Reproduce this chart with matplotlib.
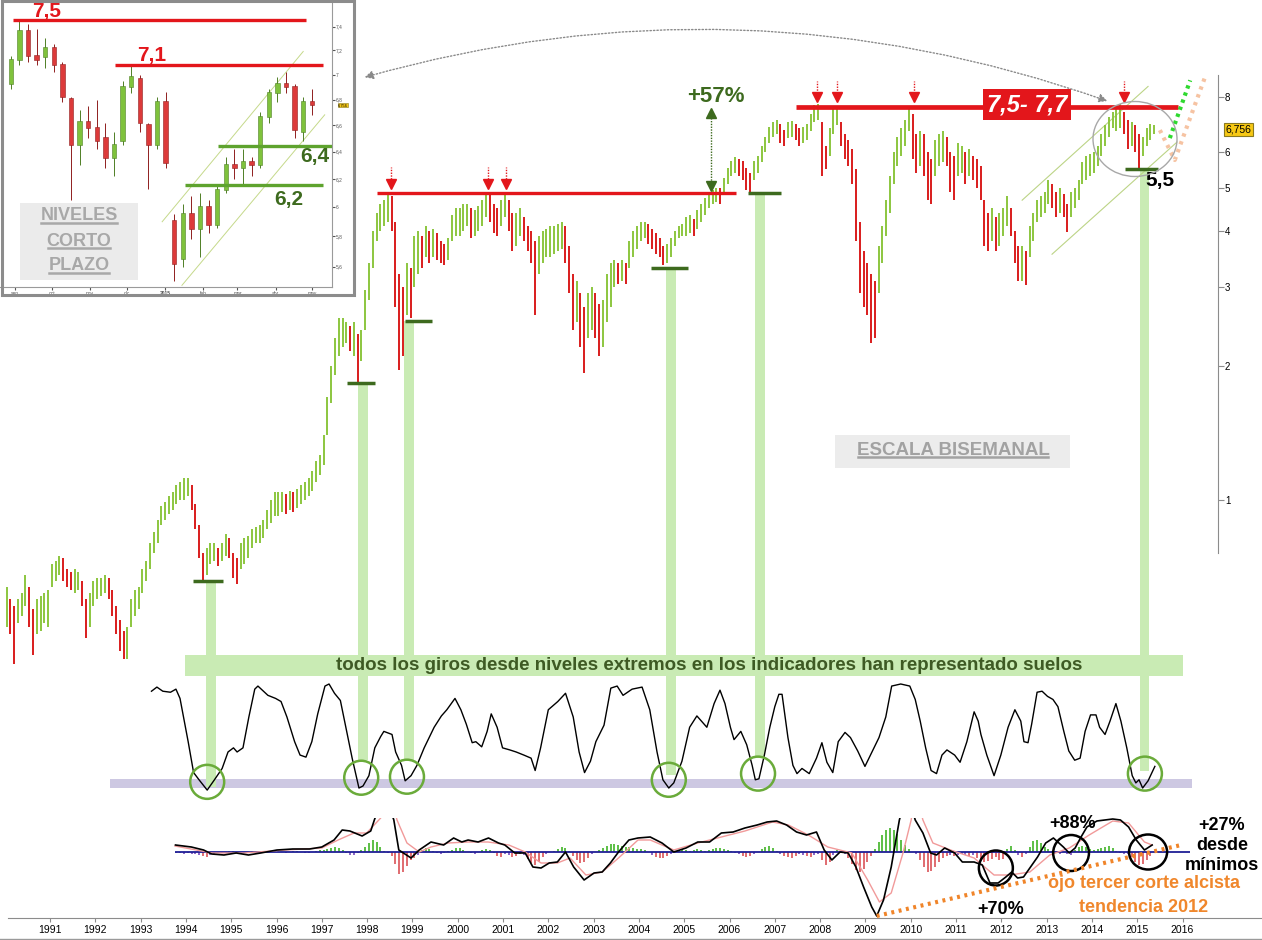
import numpy as np
import matplotlib
matplotlib.use("Agg")
import matplotlib.pyplot as plt
from matplotlib.patches import Rectangle, Ellipse, FancyArrowPatch
from matplotlib.lines import Line2D
from matplotlib.transforms import IdentityTransform
from matplotlib.ticker import NullLocator

plt.rcParams["font.family"] = ["Liberation Sans", "DejaVu Sans"]

# ---------------------------------------------------------------------------
# data
# monthly bars, Jan 1990 .. May 2015 (one row per year)
price_low = [
    0.52, 0.50, 0.43, 0.53, 0.55, 0.58, 0.52, 0.45, 0.50, 0.51, 0.53, 0.52,
    0.64, 0.66, 0.68, 0.66, 0.64, 0.63, 0.62, 0.63, 0.58, 0.49, 0.52, 0.58,
    0.60, 0.61, 0.62, 0.60, 0.55, 0.50, 0.46, 0.44, 0.44, 0.52, 0.55, 0.57,
    0.62, 0.66, 0.70, 0.76, 0.80, 0.88, 0.90, 0.93, 0.95, 0.98, 1.00, 1.00,
    1.02, 0.95, 0.86, 0.74, 0.66, 0.68, 0.72, 0.73, 0.71, 0.73, 0.75, 0.74,
    0.67, 0.65, 0.70, 0.72, 0.74, 0.78, 0.80, 0.80, 0.82, 0.86, 0.89, 0.92,
    0.92, 0.94, 0.93, 0.95, 0.94, 0.96, 0.98, 1.00, 1.02, 1.05, 1.10, 1.14,
    1.20, 1.40, 1.65, 1.90, 2.10, 2.20, 2.25, 2.15, 2.10, 1.84, 2.05, 2.40,
    2.80, 3.30, 3.80, 4.00, 4.10, 4.20, 4.00, 2.70, 1.95, 2.10, 2.60, 2.55,
    3.00, 3.20, 3.30, 3.50, 3.40, 3.50, 3.45, 3.40, 3.35, 3.45, 3.80, 3.90,
    3.90, 4.00, 4.10, 3.85, 3.90, 4.00, 4.10, 4.30, 4.20, 3.95, 3.90, 4.10,
    4.30, 4.00, 3.60, 3.70, 3.90, 3.80, 3.60, 3.40, 2.60, 3.20, 3.40, 3.50,
    3.50, 3.55, 3.60, 3.65, 3.40, 2.90, 2.40, 2.50, 2.20, 1.92, 2.30, 2.40,
    2.30, 2.10, 2.20, 2.50, 2.70, 3.00, 3.05, 3.10, 3.05, 3.30, 3.50, 3.65,
    3.80, 3.85, 3.75, 3.65, 3.55, 3.50, 3.35, 3.40, 3.50, 3.70, 3.85, 3.90,
    3.90, 3.95, 3.90, 4.05, 4.20, 4.35, 4.50, 4.60, 4.65, 4.60, 4.85, 5.10,
    5.30, 5.40, 5.30, 5.20, 4.95, 4.90, 5.20, 5.40, 5.70, 6.00, 6.30, 6.50,
    6.60, 6.30, 6.20, 6.45, 6.50, 6.40, 6.20, 6.30, 6.40, 6.70, 7.00, 7.10,
    5.30, 5.50, 5.90, 6.60, 6.90, 6.20, 5.80, 5.60, 5.10, 3.80, 2.90, 2.70,
    2.60, 2.25, 2.30, 2.90, 3.40, 3.90, 4.40, 5.10, 5.60, 5.90, 6.20, 6.70,
    5.80, 5.40, 5.60, 5.30, 4.70, 4.60, 5.30, 5.60, 5.70, 5.60, 4.90, 4.70,
    5.30, 5.40, 5.10, 5.30, 5.20, 5.00, 4.70, 3.70, 3.60, 3.80, 3.60, 3.70,
    3.90, 4.10, 3.90, 3.40, 3.10, 3.10, 3.03, 3.50, 3.80, 4.20, 4.30, 4.40,
    4.60, 4.50, 4.30, 4.40, 4.30, 3.98, 4.30, 4.50, 4.70, 5.10, 5.20, 5.30,
    5.40, 5.60, 5.90, 6.20, 6.50, 6.80, 6.70, 6.80, 6.60, 6.10, 6.20, 6.00,
    5.53, 5.90, 6.20, 6.40, 6.60,
]
price_high = [
    0.64, 0.60, 0.58, 0.60, 0.62, 0.68, 0.64, 0.57, 0.60, 0.61, 0.62, 0.63,
    0.72, 0.73, 0.75, 0.74, 0.70, 0.69, 0.70, 0.69, 0.66, 0.60, 0.62, 0.66,
    0.67, 0.67, 0.68, 0.67, 0.63, 0.58, 0.54, 0.51, 0.52, 0.60, 0.63, 0.64,
    0.70, 0.73, 0.80, 0.85, 0.90, 0.97, 0.99, 1.02, 1.04, 1.08, 1.10, 1.12,
    1.12, 1.08, 0.98, 0.88, 0.76, 0.78, 0.80, 0.80, 0.78, 0.80, 0.84, 0.82,
    0.76, 0.74, 0.80, 0.82, 0.83, 0.86, 0.87, 0.88, 0.90, 0.95, 1.00, 1.04,
    1.04, 1.04, 1.03, 1.05, 1.04, 1.06, 1.08, 1.10, 1.12, 1.16, 1.22, 1.26,
    1.40, 1.70, 2.00, 2.30, 2.55, 2.55, 2.50, 2.45, 2.50, 2.35, 2.40, 2.95,
    3.40, 4.00, 4.40, 4.60, 4.70, 4.86, 4.80, 4.20, 3.20, 3.00, 3.40, 3.30,
    3.90, 4.00, 3.90, 4.10, 4.00, 4.05, 3.95, 3.80, 3.75, 3.85, 4.35, 4.50,
    4.50, 4.60, 4.60, 4.50, 4.45, 4.55, 4.70, 4.90, 4.86, 4.60, 4.50, 4.70,
    4.90, 4.70, 4.40, 4.40, 4.50, 4.30, 4.10, 4.00, 3.80, 3.90, 4.00, 4.05,
    4.10, 4.10, 4.15, 4.20, 4.10, 3.70, 3.20, 3.10, 2.90, 2.70, 2.90, 3.00,
    2.90, 2.75, 2.80, 3.20, 3.40, 3.45, 3.40, 3.45, 3.40, 3.80, 4.00, 4.10,
    4.20, 4.20, 4.15, 4.05, 3.95, 3.85, 3.70, 3.75, 3.85, 4.00, 4.10, 4.15,
    4.30, 4.35, 4.25, 4.45, 4.60, 4.75, 4.90, 4.95, 5.00, 5.00, 5.25, 5.55,
    5.75, 5.85, 5.80, 5.75, 5.55, 5.40, 5.75, 5.90, 6.20, 6.50, 6.85, 7.00,
    7.10, 6.95, 6.75, 7.00, 7.05, 6.95, 6.80, 6.85, 6.95, 7.30, 7.65, 7.70,
    7.00, 6.20, 6.80, 7.50, 7.60, 7.00, 6.60, 6.40, 6.10, 5.50, 4.20, 3.60,
    3.40, 3.20, 3.10, 3.70, 4.10, 4.70, 5.30, 6.00, 6.50, 6.80, 7.10, 7.50,
    7.30, 6.60, 6.70, 6.60, 6.00, 5.80, 6.40, 6.60, 6.70, 6.50, 6.00, 5.90,
    6.30, 6.20, 6.00, 6.10, 5.90, 5.80, 5.60, 4.70, 4.40, 4.50, 4.30, 4.40,
    4.50, 4.80, 4.50, 4.00, 3.70, 3.70, 3.60, 4.10, 4.40, 4.70, 4.80, 4.90,
    5.20, 5.10, 4.90, 5.00, 4.85, 4.60, 4.90, 5.00, 5.20, 5.70, 5.90, 5.95,
    6.00, 6.20, 6.60, 6.90, 7.20, 7.40, 7.50, 7.70, 7.40, 7.10, 7.00, 6.90,
    6.60, 6.50, 6.80, 6.95, 6.90,
]
axis_ticks = [1, 2, 3, 4, 5, 6, 8]

# resistance levels (red) with the span they are drawn over and the tops marked
res_levels = [4.87, 7.60]
res_spans = [(1998.22, 2006.14), (2007.47, 2015.90)]
res_peaks = [[1998.53, 2000.67, 2001.07], [2007.93, 2008.37, 2010.07, 2014.71]]

# lows that started each turn: (year, price), marker span, end of column in the oscillator
support_t = [1994.55, 1997.91, 1998.93, 2004.71, 2006.67, 2015.16]
support_p = [0.66, 1.83, 2.52, 3.30, 4.86, 5.50]
support_span = [(1994.16, 1994.82), (1997.56, 1998.17), (1998.84, 1999.43),
                (2004.27, 2005.08), (2006.41, 2007.14), (2014.73, 2015.46)]
column_end = [0, 26, 26, 12, 28, 16]
osc_circles = [(1994.47, 5), (1997.87, 9), (1998.88, 10), (2004.66, 7), (2006.63, 13), (2015.17, 13)]

# oscillator (0 = extreme low band, 100 = top)
osc = [
    (1993.24, 93), (1993.36, 97), (1993.49, 93), (1993.66, 92), (1993.78, 95), (1993.87, 86),
    (1994.05, 44), (1994.17, 14), (1994.29, 7), (1994.47, -3), (1994.63, 7), (1994.80, 18),
    (1994.93, 34), (1995.05, 38), (1995.13, 34), (1995.26, 38), (1995.39, 68), (1995.52, 95),
    (1995.59, 98), (1995.81, 89), (1995.98, 86), (1996.10, 83), (1996.23, 68), (1996.40, 44),
    (1996.52, 31), (1996.65, 29), (1996.78, 44), (1996.91, 71), (1997.07, 98), (1997.16, 100),
    (1997.28, 91), (1997.41, 84), (1997.53, 58), (1997.67, 28), (1997.82, -1), (1997.91, 1),
    (1998.04, 11), (1998.17, 38), (1998.30, 49), (1998.37, 54), (1998.55, 51), (1998.63, 34),
    (1998.76, 21), (1998.84, 6), (1998.97, 11), (1999.10, 21), (1999.26, 38), (1999.48, 58),
    (1999.64, 69), (1999.76, 75), (1999.94, 86), (2000.07, 75), (2000.19, 61), (2000.32, 43),
    (2000.40, 44), (2000.53, 39), (2000.65, 54), (2000.74, 71), (2000.87, 58), (2000.99, 38),
    (2001.15, 36), (2001.29, 34), (2001.46, 31), (2001.62, 28), (2001.71, 16), (2001.83, 38),
    (2002.00, 75), (2002.21, 83), (2002.38, 91), (2002.55, 68), (2002.68, 34), (2002.80, 14),
    (2002.93, 25), (2003.05, 44), (2003.23, 60), (2003.38, 96), (2003.52, 98), (2003.65, 89),
    (2003.85, 95), (2004.07, 97), (2004.24, 75), (2004.40, 34), (2004.53, 7), (2004.66, -1),
    (2004.77, 4), (2004.95, 25), (2005.12, 58), (2005.28, 69), (2005.50, 58), (2005.66, 81),
    (2005.79, 94), (2005.90, 81), (2006.02, 58), (2006.10, 46), (2006.25, 54), (2006.38, 41),
    (2006.50, 21), (2006.57, 7), (2006.65, 8), (2006.77, 31), (2006.89, 58), (2007.00, 78),
    (2007.09, 90), (2007.16, 90), (2007.29, 48), (2007.40, 21), (2007.49, 13), (2007.60, 18),
    (2007.76, 13), (2007.92, 28), (2008.04, 43), (2008.15, 24), (2008.28, 14), (2008.40, 44),
    (2008.55, 53), (2008.67, 48), (2008.83, 35), (2008.99, 20), (2009.19, 38), (2009.30, 48),
    (2009.45, 68), (2009.58, 98), (2009.78, 100), (2009.98, 98), (2010.10, 85), (2010.21, 64),
    (2010.33, 38), (2010.45, 16), (2010.57, 13), (2010.69, 31), (2010.80, 36), (2010.97, 31),
    (2011.09, 24), (2011.24, 44), (2011.40, 73), (2011.49, 64), (2011.55, 51), (2011.68, 31),
    (2011.84, 11), (2011.99, 31), (2012.15, 58), (2012.30, 75), (2012.43, 64), (2012.50, 44),
    (2012.59, 43), (2012.67, 61), (2012.79, 92), (2012.90, 93), (2013.02, 88), (2013.14, 85),
    (2013.25, 78), (2013.38, 54), (2013.49, 35), (2013.62, 26), (2013.74, 28), (2013.85, 54),
    (2013.97, 70), (2014.09, 70), (2014.17, 58), (2014.29, 51), (2014.40, 64), (2014.53, 81),
    (2014.64, 64), (2014.77, 38), (2014.89, 11), (2014.97, 4), (2015.04, 7), (2015.12, -1),
    (2015.24, 6), (2015.39, 20),
]

# MACD line, signal line and monthly histogram (from Oct 1993)
macd = [
    (1993.77, 7), (1994.12, 5), (1994.39, 2), (1994.57, -2), (1994.84, -3), (1995.11, -1),
    (1995.38, -3), (1995.65, -1), (1996.01, 2), (1996.36, 3), (1996.73, 3), (1997.00, 5),
    (1997.27, 12), (1997.45, 22), (1997.62, 21), (1997.89, 16), (1998.08, 21), (1998.16, 32),
    (1998.38, 60), (1998.59, 32), (1998.70, 2), (1998.97, -6), (1999.15, 2), (1999.41, 10),
    (1999.69, 7), (1999.91, 14), (2000.09, 10), (2000.23, 12), (2000.45, 10), (2000.68, 14),
    (2000.90, 9), (2001.04, 7), (2001.26, -1), (2001.49, -1), (2001.66, -15), (2001.84, -16),
    (2002.02, -11), (2002.20, -10), (2002.38, 0), (2002.56, -15), (2002.79, -28), (2003.01, -21),
    (2003.19, -20), (2003.37, -11), (2003.55, 0), (2003.78, 12), (2003.98, 14), (2004.25, 15),
    (2004.51, 9), (2004.77, 0), (2005.04, 4), (2005.30, 10), (2005.56, 10), (2005.82, 19),
    (2006.08, 20), (2006.34, 24), (2006.61, 27), (2006.83, 30), (2007.04, 31), (2007.26, 27),
    (2007.48, 20), (2007.70, 17), (2007.92, 20), (2008.09, 2), (2008.26, -8), (2008.44, 0),
    (2008.62, -1), (2008.79, -15), (2008.96, -35), (2009.14, -55), (2009.25, -64), (2009.40, -48),
    (2009.57, -15), (2009.75, 32), (2009.92, 60), (2010.10, 32), (2010.27, 19), (2010.44, -1),
    (2010.57, -3), (2010.75, 4), (2010.97, -1), (2011.14, -10), (2011.40, -10), (2011.58, -13),
    (2011.75, -31), (2011.93, -31), (2012.10, -25), (2012.23, -20), (2012.36, -26), (2012.49, -25),
    (2012.63, -16), (2012.80, -5), (2012.98, 9), (2013.15, 14), (2013.37, 5), (2013.50, -1),
    (2013.63, 4), (2013.76, 15), (2013.89, 25), (2014.11, 31), (2014.46, 33), (2014.63, 32),
    (2014.81, 25), (2014.98, 12), (2015.16, 2), (2015.33, 7),
]
signal = [
    (1993.76, 6), (1994.58, -1), (1995.28, -1), (1996.19, 2), (1997.00, 4), (1997.36, 12),
    (1997.71, 19), (1997.99, 19), (1998.30, 34), (1998.50, 60), (1998.66, 32), (1998.88, 9),
    (1999.15, 0), (1999.41, 5), (1999.79, 9), (2000.23, 10), (2000.67, 10), (2001.13, 7),
    (2001.49, 0), (2001.84, -11), (2002.20, -11), (2002.48, -6), (2002.83, -23), (2003.19, -20),
    (2003.55, -6), (2003.98, 12), (2004.25, 12), (2004.77, 2), (2005.30, 9), (2005.82, 15),
    (2006.34, 21), (2006.95, 30), (2007.30, 27), (2007.74, 17), (2008.17, 5), (2008.70, -1),
    (2009.05, -28), (2009.31, -50), (2009.57, -41), (2009.83, -1), (2010.01, 32), (2010.10, 60),
    (2010.27, 32), (2010.49, 9), (2010.88, 2), (2011.40, -6), (2011.84, -23), (2012.19, -23),
    (2012.63, -20), (2013.07, -3), (2013.50, 4), (2013.94, 17), (2014.46, 31), (2014.81, 29),
    (2015.16, 10), (2015.33, 7),
]
macd_hist = [
    -1, -1, -2,
    -1, -2, -2, -3, -4, -5, -3, -2, -1, -1, 0, 1,
    1, 0, -1, -1, 0, 1, 1, 0, -1, 0, 1, 1,
    1, 0, -1, 0, 1, 1, 0, -1, -1, 0, 1, 2,
    2, 3, 4, 5, 4, 2, -1, -3, -3, -1, 2, 5,
    9, 12, 10, 5, 1, -1, -4, -12, -22, -20, -14, -8,
    -6, -3, 2, 4, 3, 1, -1, -2, -1, 1, 2, 4,
    4, 2, 0, -1, -2, 0, 2, 3, 2, -1, -4, -5,
    -2, -3, -5, -4, -2, -3, -7, -11, -13, -10, -5, -2,
    0, 1, 3, 5, 4, 1, -4, -8, -11, -10, -6, -2,
    0, 2, 4, 6, 8, 8, 7, 6, 5, 5, 4, 3,
    3, 2, 0, -3, -5, -6, -6, -4, -2, 1, 2, 3,
    2, 1, 2, 3, 2, 1, 2, 3, 4, 4, 3, 2,
    1, -1, -2, -4, -5, -4, -2, 0, 3, 5, 6, 4,
    1, -2, -4, -5, -6, -4, -2, -3, -4, -5, -3, -2,
    -8, -13, -10, -3, 2, 1, -2, -6, -12, -18, -20, -17,
    -10, -4, 3, 10, 17, 22, 24, 22, 18, 12, 7, 3,
    0, -2, -8, -15, -20, -19, -15, -10, -6, -4, -3, -4,
    -3, -2, -3, -4, -3, -6, -9, -10, -9, -7, -5, -8,
    -7, 3, 6, 2, -3, -5, -2, 5, 11, 12, 9, 5,
    3, 1, -1, -2, 0, -2, -3, 2, 5, 6, 5, 3,
    2, 3, 4, 5, 6, 4, 1, -1, -2, -2, -5, -10,
    -13, -12, -8, -4,
]
macd_circles = [(2011.88, -16, 0.75, 35), (2013.54, -1, 0.79, 36), (2015.24, 0, 0.84, 35)]

# inset: weekly candles from the week of 25 Aug 2014
in_open = [6.92, 7.12, 7.36, 7.15, 7.14, 7.22, 7.08, 6.80, 6.45, 6.62, 6.58, 6.50, 6.35, 6.48,
           6.90, 6.96, 6.60, 6.45, 6.78, 5.90, 5.65, 5.95, 5.85, 6.00, 5.88, 6.12, 6.30, 6.28,
           6.32, 6.30, 6.66, 6.85, 6.92, 6.90, 6.55, 6.78]
in_high = [7.15, 7.46, 7.42, 7.38, 7.30, 7.25, 7.10, 6.82, 6.72, 6.75, 6.80, 6.62, 6.55, 6.95,
           7.08, 7.00, 6.62, 6.82, 6.86, 5.95, 6.02, 6.08, 6.10, 6.05, 6.15, 6.36, 6.42, 6.42,
           6.36, 6.70, 6.88, 6.98, 7.02, 6.92, 6.82, 6.88]
in_low = [6.88, 7.08, 7.10, 7.08, 7.05, 7.02, 6.78, 6.05, 6.30, 6.50, 6.42, 6.28, 6.22, 6.45,
          6.85, 6.55, 6.13, 6.42, 6.28, 5.51, 5.60, 5.78, 5.66, 5.82, 5.86, 6.10, 6.20, 6.16,
          6.22, 6.28, 6.62, 6.78, 6.85, 6.50, 6.48, 6.68]
in_close = [7.12, 7.36, 7.15, 7.12, 7.22, 7.08, 6.82, 6.45, 6.62, 6.58, 6.48, 6.35, 6.45, 6.90,
            6.98, 6.62, 6.45, 6.78, 6.32, 5.62, 5.95, 5.85, 6.00, 5.88, 6.12, 6.30, 6.28, 6.32,
            6.30, 6.66, 6.85, 6.92, 6.90, 6.56, 6.78, 6.756]
in_ticks = [5.6, 5.8, 6.0, 6.2, 6.4, 6.6, 6.8, 7.0, 7.2, 7.4]
in_months = ["2014-09-01", "2014-10-01", "2014-11-01", "2014-12-01", "2015-01-01",
             "2015-02-01", "2015-03-01", "2015-04-01", "2015-05-01"]
in_month_labels = ["sep", "oct", "nov", "dic", "2015", "feb", "mar", "abr", "may"]
in_levels = [7.46, 7.08, 6.44, 6.16]
in_level_spans = [(0.76, 34.8), (12.6, 36.8), (24.6, 37.85), (20.8, 36.8)]

# ---------------------------------------------------------------------------
W, H = 1262, 940
fig = plt.figure(figsize=(W / 100, H / 100), dpi=100)

RED = "#e3161b"
BAR_GREEN = "#8cc63f"
BAR_RED = "#d91c1c"
COL_GREEN = "#c9ebb4"
DARK_GREEN = "#3d6a1e"
LINE_GREEN = "#5ea32e"


def year_at(px):
    # x layout of the screenshot: 1991 at 50 px, 45.3 px per year
    return 1991 + (px - 50) / 45.3


def price_at(py):
    # log price scale: 1.0 at y=500 px, 194 px per e-fold
    return np.exp((500 - py) / 194)


def rect(x0, y0, x1, y1):
    return [x0 / W, 1 - y1 / H, (x1 - x0) / W, (y1 - y0) / H]


def ftext(px, py, s, **kw):
    return fig.text(px / W, 1 - py / H, s, **kw)


def fbox(x0, y0, x1, y1, **kw):
    p = Rectangle((x0 / W, 1 - y1 / H), (x1 - x0) / W, (y1 - y0) / H,
                  transform=fig.transFigure, **kw)
    fig.add_artist(p)
    return p


XLIM = (year_at(0), year_at(W))

# ---------------- main price panel ----------------
ax = fig.add_axes(rect(0, 0, W, 680))
ax.set_facecolor("none")
ax.set_xlim(*XLIM)
ax.set_yscale("log")
ax.set_ylim(price_at(680), price_at(0))
for s in ["left", "top", "bottom"]:
    ax.spines[s].set_visible(False)
ax.spines["right"].set_position(("data", year_at(1218)))
ax.spines["right"].set_bounds(price_at(553), price_at(75))
ax.spines["right"].set_color("#8c8c8c")
ax.yaxis.set_ticks_position("right")
ax.set_yticks(axis_ticks)
ax.set_yticklabels([str(v) for v in axis_ticks])
ax.yaxis.set_minor_locator(NullLocator())
ax.tick_params(axis="y", length=4, color="#8c8c8c", labelsize=7, pad=1)
ax.set_xticks([])

lo = np.array(price_low)
hi = np.array(price_high)
t = 1990 + (np.arange(len(lo)) + 0.5) / 12
mid = (lo + hi) / 2
up = np.r_[True, mid[1:] >= mid[:-1]]
ax.vlines(t[up], lo[up], hi[up], color=BAR_GREEN, lw=1.4, zorder=3)
ax.vlines(t[~up], lo[~up], hi[~up], color=BAR_RED, lw=1.4, zorder=3)

# green columns from each low down to the oscillator
bottom = ax.get_ylim()[0]
ax.bar(support_t, np.array(support_p) - bottom, bottom=bottom, width=0.21,
       color=COL_GREEN, zorder=1)
for (a, b), p in zip(support_span, support_p):
    ax.hlines(p, a, b, color=DARK_GREEN, lw=2.5, zorder=4)

# resistance lines and marked tops
for lvl, (a, b), peaks, lw in zip(res_levels, res_spans, res_peaks, [2.4, 3.4]):
    ax.hlines(lvl, a, b, color=RED, lw=lw, zorder=4)
    for pk in peaks:
        ax.vlines(pk, lvl * 1.075, lvl * 1.14, colors=RED, linestyles=(0, (1, 1)), lw=1, zorder=4)
        ax.plot(pk, lvl * 1.048, marker="v", ms=7, color=RED, zorder=4)

ax.text(year_at(1027), price_at(104.5), "7,5- 7,7", ha="center", va="center",
        fontsize=17, fontweight="bold", style="italic", color="white", zorder=5,
        bbox=dict(boxstyle="square,pad=0.18", fc=RED, ec="none"))

# +57 % move between the two levels
t57 = year_at(711)
ax.vlines(t57, res_levels[0] * 1.05, res_levels[1] / 1.05, colors=DARK_GREEN,
          linestyles=(0, (1, 1)), lw=1, zorder=4)
ax.plot(t57, res_levels[1] / 1.035, marker="^", ms=7, color=DARK_GREEN, zorder=4)
ax.plot(t57, res_levels[0] * 1.035, marker="v", ms=7, color=DARK_GREEN, zorder=4)
ax.text(year_at(716), price_at(97), "+57%", ha="center", va="center", fontsize=16,
        fontweight="bold", color=DARK_GREEN)

# 2012-2015 channel, circle and projections
ax.plot([2012.46, 2015.24], [4.69, 8.43], color="#bcd486", lw=0.8, zorder=2)
ax.plot([2013.12, 2015.88], [3.55, 6.33], color="#bcd486", lw=0.8, zorder=2)
ax.plot([2015.72, 2016.17], [6.46, 8.70], color="#2fd92f", lw=3,
        ls=(0, (0.8, 1.0)), zorder=4, clip_on=False)
ax.plot([2015.50, 2015.83, 2016.50], [6.73, 5.77, 8.86], color="#f6c3a2", lw=3,
        ls=(0, (0.8, 1.2)), zorder=2, clip_on=False)
ax.text(year_at(1160), price_at(180), "5,5", ha="center", va="center", fontsize=15,
        fontweight="bold", color="black")

# last price tag on the axis
ax.text(year_at(1238), in_close[-1], "6,756", ha="center", va="center", fontsize=7.5,
        color="black", zorder=6,
        bbox=dict(boxstyle="square,pad=0.15", fc="#f6c814", ec="#8a7a20", lw=0.8))

# ---------------- oscillator ----------------
axo = fig.add_axes(rect(0, 680, W, 800))
axo.set_facecolor("none")
axo.set_xlim(*XLIM)
axo.set_ylim((787 - 800) / 1.03, (787 - 680) / 1.03)
axo.axis("off")
axo.fill_between([year_at(110), year_at(1192)], -1, 8, color="#cdc8e2", lw=0, zorder=1)
otop = axo.get_ylim()[1]
axo.bar(support_t, otop - np.array(column_end), bottom=column_end, width=0.21,
        color=COL_GREEN, zorder=2)
ot, ov = zip(*osc)
axo.plot(ot, ov, color="black", lw=1.0, zorder=3)
for cx, cy in osc_circles:
    axo.add_patch(Ellipse((cx, cy), 0.75, 33, fill=False, ec="#6aab3a", lw=1.8,
                          zorder=4, clip_on=False))

# ---------------- MACD ----------------
axm = fig.add_axes(rect(0, 818, W, 918))
axm.set_facecolor("none")
axm.set_xlim(*XLIM)
axm.set_ylim(-66, 34)
for s in ["left", "top", "right"]:
    axm.spines[s].set_visible(False)
axm.spines["bottom"].set_color("#8c8c8c")
axm.spines["bottom"].set_bounds(year_at(8), XLIM[1])
axm.set_yticks([])
years = list(range(1991, 2017))
axm.set_xticks(years)
axm.set_xticklabels([str(y) for y in years])
axm.tick_params(axis="x", length=3, color="#8c8c8c", labelsize=7.5, pad=2)

hv = np.array(macd_hist)
ht = 1993.75 + (np.arange(len(hv)) + 0.5) / 12
hcol = np.where(hv > 0, "#5cbf45", np.where(hv >= -3, "#8a63c6", "#e06b70"))
axm.vlines(ht, 0, hv, colors=hcol, lw=1.4, zorder=2)
axm.hlines(0, year_at(175), year_at(1190), color="#1f1f95", lw=1.3, zorder=3)
st, sv = zip(*signal)
axm.plot(st, sv, color="#f19a9a", lw=1.0, zorder=4)
mt, mv = zip(*macd)
axm.plot(mt, mv, color="black", lw=1.2, zorder=5)
for cx, cy, w, h in macd_circles:
    axm.add_patch(Ellipse((cx, cy), w, h, fill=False, ec="black", lw=1.8, zorder=6, clip_on=False))
imin = int(np.argmin(mv))
axm.plot([mt[imin], 2015.97], [mv[imin], 7], color="#f0852a", lw=3,
         ls=(0, (0.7, 1.1)), zorder=6, clip_on=False)

fig.add_artist(Line2D([0, 1], [1 - 938.5 / H] * 2, transform=fig.transFigure,
                      color="#9a9a9a", lw=1))

ftext(1001, 910, "+70%", ha="center", va="center", fontsize=13, fontweight="bold")
ftext(1073, 823, "+88%", ha="center", va="center", fontsize=13, fontweight="bold")
for py, s in [(826, "+27%"), (846, "desde"), (865, "mínimos")]:
    ftext(1222, py, s, ha="center", va="center", fontsize=13, fontweight="bold")
ftext(1144, 884, "ojo tercer corte alcista", ha="center", va="center", fontsize=13,
      fontweight="bold", color="#f0872c")
ftext(1144, 907, "tendencia 2012", ha="center", va="center", fontsize=13,
      fontweight="bold", color="#f0872c")

# message band across the oscillator
fbox(185, 655, 1183, 676, fc=COL_GREEN, ec="none", zorder=1)
ftext(709, 665, "todos los giros desde niveles extremos en los indicadores han representado suelos",
      ha="center", va="center", fontsize=13.5, fontweight="bold", color="#3e5a24", zorder=3)

# scale label
fbox(835, 435, 1070, 468, fc="#ececec", ec="none", zorder=1)
esc = ftext(953, 450, "ESCALA BISEMANAL", ha="center", va="center", fontsize=13.5,
            fontweight="bold", color="#a2a2a2", zorder=3)

# ---------------- inset (short term) ----------------
fbox(0, 0, 355, 296, fc="white", ec="none", zorder=2.5)
axi = fig.add_axes(rect(0, 3, 332, 287))
axi.set_zorder(3)
axi.set_facecolor("white")
axi.set_xlim((0 - 6.5) / 8.6, (332 - 6.5) / 8.6)
axi.set_yscale("log")
axi.set_ylim(7.4 * np.exp(-(287 - 26.7) / 861), 7.4 * np.exp((26.7 - 3) / 861))
for s in ["left", "top"]:
    axi.spines[s].set_visible(False)
for s in ["right", "bottom"]:
    axi.spines[s].set_color("#9a9a9a")
    axi.spines[s].set_linewidth(0.8)
axi.yaxis.set_ticks_position("right")
axi.set_yticks(in_ticks)
axi.set_yticklabels([f"{v:g}".replace(".", ",") for v in in_ticks])
axi.yaxis.set_minor_locator(NullLocator())
axi.tick_params(axis="y", length=2, labelsize=3.5, pad=1, colors="#555555")
month_x = [(np.datetime64(d) - np.datetime64("2014-08-25")).astype(int) / 7 for d in in_months]
axi.set_xticks(month_x)
axi.set_xticklabels(in_month_labels)
axi.tick_params(axis="x", length=2, labelsize=3.5, pad=1, colors="#555555")
for lbl in axi.get_xticklabels():
    if lbl.get_text() == "2015":
        lbl.set_fontweight("bold")

o = np.array(in_open)
c = np.array(in_close)
wx = np.arange(len(o)) + 0.5
rise = c >= o
axi.vlines(wx, in_low, in_high, colors=np.where(rise, "#4f7f25", "#8f1f1f"), lw=0.7, zorder=2)
axi.bar(wx, np.abs(c - o) + 0.01, bottom=np.minimum(o, c), width=0.5,
        color=np.where(rise, "#7fc23c", "#dc3a3a"),
        edgecolor=np.where(rise, "#4f7f25", "#8f1f1f"), lw=0.4, zorder=3)
axi.plot([18.1, 34.5], [5.90, 7.19], color="#c5d98a", lw=0.7, zorder=1)
axi.plot([20.4, 37.0], [5.48, 6.68], color="#c5d98a", lw=0.7, zorder=1)
for lvl, (a, b), col in zip(in_levels, in_level_spans, [RED, RED, LINE_GREEN, LINE_GREEN]):
    axi.hlines(lvl, a, b, color=col, lw=2.4, zorder=4)
axi.text((343 - 6.5) / 8.6, in_close[-1], "6,756", fontsize=2.8, ha="center", va="center",
         clip_on=False, bbox=dict(boxstyle="square,pad=0.1", fc="#f6c814", ec="#8a7a20", lw=0.4))

for (px, py, s, col) in [(47, 12, "7,5", RED), (152, 56, "7,1", RED),
                         (315, 157, "6,4", DARK_GREEN), (289, 200, "6,2", DARK_GREEN)]:
    ftext(px, py, s, ha="center", va="center", fontsize=15, fontweight="bold", color=col, zorder=5)

fbox(20, 203, 138, 280, fc="#ebebeb", ec="none", zorder=4)
niv = [ftext(79, py, s, ha="center", va="center", fontsize=13, fontweight="bold",
             color="#a8a8a8", zorder=5)
       for py, s in [(216, "NIVELES"), (241, "CORTO"), (266, "PLAZO")]]
fbox(1.5, 1.5, 354, 295, fill=False, ec="#8c8c8c", lw=2.2, zorder=6)

# ---------------- linking arrow and circle ----------------
renderer = fig.canvas.get_renderer()
cx, cy = ax.transData.transform((year_at(1135), price_at(139)))
fig.add_artist(Ellipse((cx, cy), 84, 75, transform=IdentityTransform(), fill=False,
                       ec="#a8a8a8", lw=1.0, zorder=4))
bx, by = ax.transData.transform((year_at(1110), price_at(102)))
fig.add_artist(FancyArrowPatch((362, H - 78), (bx, by), transform=IdentityTransform(),
                               connectionstyle="arc3,rad=-0.16",
                               arrowstyle="<|-|>,head_length=5,head_width=2.5",
                               color="#8a8a8a", lw=1.0, ls=(0, (1, 1.5)), zorder=6))


def underline(txt, lw=1.8):
    bb = txt.get_window_extent(renderer)
    y = bb.y0 + 2
    fig.add_artist(Line2D([bb.x0 + 1, bb.x1 - 1], [y, y], transform=IdentityTransform(),
                          color=txt.get_color(), lw=lw, zorder=txt.get_zorder()))


fig.canvas.draw()
underline(esc)
for tx in niv:
    underline(tx)

fig.savefig("out.png", dpi=100)
